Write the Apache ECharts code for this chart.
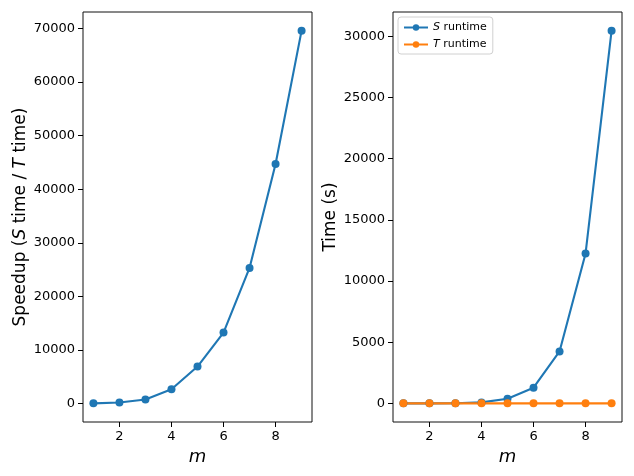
<!DOCTYPE html>
<html>
<head>
<meta charset="utf-8">
<script src="https://cdn.jsdelivr.net/npm/echarts@6.0.0/dist/echarts.min.js"></script>
<style>
  html, body { margin: 0; padding: 0; background: #fff; }
  #chart { width: 634px; height: 476px; }
</style>
</head>
<body>
<div id="chart"></div>
<script>
// values
const mValues = [1, 2, 3, 4, 5, 6, 7, 8, 9];
const speedup = [30, 180, 750, 2670, 6900, 13250, 25300, 44700, 69600];
const sRuntime = [0.3, 2, 12, 80, 380, 1280, 4240, 12250, 30450];
const tRuntime = [0.01, 0.01, 0.02, 0.03, 0.055, 0.097, 0.168, 0.274, 0.437];

const xTicks = [2, 4, 6, 8];
const speedupTicks = [0, 10000, 20000, 30000, 40000, 50000, 60000, 70000];
const timeTicks = [0, 5000, 10000, 15000, 20000, 25000, 30000];

const FONT = "DejaVu Sans, sans-serif";
const BLUE = "#1f77b4";
const ORANGE = "#ff7f0e";

// matplotlib style 5% margins
function padded(values) {
  const lo = Math.min(...values);
  const hi = Math.max(...values);
  const pad = (hi - lo) * 0.05;
  return [lo - pad, hi + pad];
}

const xRange = padded(mValues);
const leftRange = padded(speedup);
const rightRange = padded(sRuntime.concat(tRuntime));

function xAxis(gridIndex) {
  return {
    type: "value",
    gridIndex,
    min: xRange[0],
    max: xRange[1],
    name: "m",
    nameLocation: "middle",
    nameGap: 24,
    nameTextStyle: { fontFamily: FONT, fontSize: 18, fontStyle: "italic", color: "#000" },
    axisLine: { show: false, onZero: false },
    axisTick: { show: true, length: 5, customValues: xTicks, lineStyle: { color: "#000", width: 1 } },
    axisLabel: {
      customValues: xTicks,
      formatter: (v) => String(v),
      fontFamily: FONT,
      fontSize: 13,
      color: "#000",
      margin: 8,
    },
    splitLine: { show: false },
  };
}

function yAxis(gridIndex, range, ticks, name, gap) {
  return {
    type: "value",
    gridIndex,
    min: range[0],
    max: range[1],
    name,
    nameLocation: "middle",
    nameGap: gap,
    nameRotate: 90,
    nameTextStyle: {
      fontFamily: FONT,
      fontSize: 17,
      color: "#000",
      rich: { i: { fontFamily: FONT, fontSize: 17, fontStyle: "italic", color: "#000" } },
    },
    axisLine: { show: false, onZero: false },
    axisTick: { show: true, length: 5, customValues: ticks, lineStyle: { color: "#000", width: 1 } },
    axisLabel: {
      customValues: ticks,
      formatter: (v) => String(v),
      fontFamily: FONT,
      fontSize: 13,
      color: "#000",
      margin: 8,
    },
    splitLine: { show: false },
  };
}

function pairs(ys) {
  return mValues.map((m, i) => [m, ys[i]]);
}

function lineSeries(name, ys, color, axisIndex) {
  return {
    type: "line",
    name,
    xAxisIndex: axisIndex,
    yAxisIndex: axisIndex,
    data: pairs(ys),
    symbol: "circle",
    symbolSize: 8,
    showSymbol: true,
    lineStyle: { color, width: 2.1 },
    itemStyle: { color },
    emphasis: { disabled: true },
  };
}

const chart = echarts.init(document.getElementById("chart"), null, { renderer: "canvas" });

chart.setOption({
  animation: false,
  backgroundColor: "#fff",
  textStyle: { fontFamily: FONT },
  grid: [
    { left: 83, top: 12, width: 229, height: 410, show: true, borderColor: "#111", borderWidth: 1 },
    { left: 393, top: 12, width: 229, height: 410, show: true, borderColor: "#111", borderWidth: 1 },
  ],
  legend: {
    data: ["S runtime", "T runtime"],
    left: 398,
    top: 17,
    orient: "vertical",
    itemWidth: 24,
    itemHeight: 8,
    itemGap: 6,
    padding: [5, 6, 4, 5],
    borderColor: "#d0d0d0",
    borderWidth: 1,
    borderRadius: 3,
    backgroundColor: "rgba(255,255,255,0.8)",
    formatter: (name) => name.replace(/^(\S+)/, "{i|$1}"),
    textStyle: {
      fontFamily: FONT,
      fontSize: 11,
      color: "#000",
      rich: { i: { fontFamily: FONT, fontSize: 11, fontStyle: "italic", color: "#000" } },
    },
  },
  xAxis: [xAxis(0), xAxis(1)],
  yAxis: [
    yAxis(0, leftRange, speedupTicks, "Speedup ({i|S} time / {i|T} time)", 54),
    yAxis(1, rightRange, timeTicks, "Time (s)", 54),
  ],
  series: [
    lineSeries("Speedup", speedup, BLUE, 0),
    lineSeries("S runtime", sRuntime, BLUE, 1),
    lineSeries("T runtime", tRuntime, ORANGE, 1),
  ],
});
</script>
</body>
</html>
